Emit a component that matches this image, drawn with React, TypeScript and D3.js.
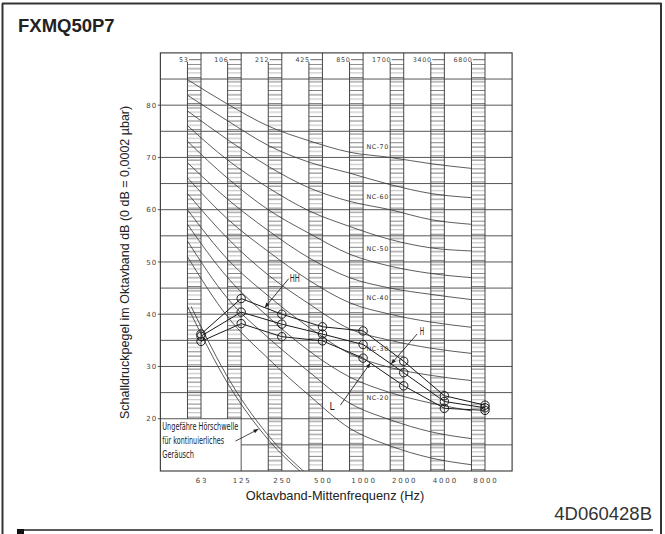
import React from "react";
import * as d3 from "d3";

// ---- data ---------------------------------------------------------------
const TITLE = "FXMQ50P7";
const DOC_CODE = "4D060428B";
const Y_TITLE = "Schalldruckpegel im Oktavband dB (0 dB = 0,0002 µbar)";
const X_TITLE = "Oktavband-Mittenfrequenz (Hz)";

// octave band centre frequencies (Hz) and their printed labels
const BAND_CENTERS = [63, 125, 250, 500, 1000, 2000, 4000, 8000];
const BAND_CENTER_LABELS = ["63", "125", "250", "500", "1000", "2000", "4000", "8000"];
// lower band-edge labels printed along the top
const BAND_EDGE_LABELS = ["53", "106", "212", "425", "850", "1700", "3400", "6800"];

const Y_TICKS = [20, 30, 40, 50, 60, 70, 80];
const GRID_LEVELS = [20, 25, 30, 35, 40, 45, 50, 55, 60, 65, 70, 75, 80, 85];
const LOW_GRID_LEVELS = [15];

// measured sound pressure level per octave band (dB)
const SERIES_HH = [36.2, 43.0, 40.0, 37.6, 36.8, 31.0, 24.4, 22.6];
const SERIES_H = [35.8, 40.4, 38.1, 36.2, 34.2, 28.8, 23.3, 22.1];
const SERIES_L = [34.8, 38.2, 35.7, 34.9, 31.6, 26.3, 22.0, 21.6];

// NC reference curves (dB at each band edge)
const NC_NAMES = ["NC-70", "NC-65", "NC-60", "NC-55", "NC-50", "NC-45", "NC-40", "NC-35", "NC-30", "NC-25", "NC-20", "NC-15"];
const NC_70 = [84.9, 80.2, 76.0, 73.2, 71.0, 70.0, 68.8, 67.9];
const NC_65 = [81.9, 77.0, 72.3, 69.1, 67.0, 64.8, 63.1, 62.3];
const NC_60 = [78.9, 73.4, 68.3, 64.2, 61.6, 60.0, 58.1, 57.2];
const NC_55 = [76.1, 69.5, 64.2, 59.8, 56.8, 54.3, 52.7, 52.1];
const NC_50 = [73.1, 66.0, 60.0, 55.5, 51.5, 49.2, 47.8, 47.0];
const NC_45 = [69.0, 62.0, 56.0, 50.8, 47.0, 45.0, 43.8, 42.8];
const NC_40 = [66.1, 58.2, 52.0, 46.5, 42.2, 40.0, 38.5, 37.5];
const NC_35 = [63.1, 54.5, 47.5, 42.0, 37.2, 35.0, 33.5, 32.5];
const NC_30 = [60.0, 50.5, 43.5, 37.5, 32.5, 29.8, 28.3, 27.3];
const NC_25 = [57.2, 47.0, 39.5, 33.0, 28.0, 25.0, 23.0, 21.5];
const NC_20 = [54.0, 43.0, 35.5, 29.0, 23.0, 19.8, 17.5, 16.2];
const NC_15 = [51.0, 39.5, 31.5, 24.5, 18.2, 14.8, 12.5, 11.2];
const NC_CURVES = [NC_70, NC_65, NC_60, NC_55, NC_50, NC_45, NC_40, NC_35, NC_30, NC_25, NC_20, NC_15];
const NC_LABELLED = ["NC-70", "NC-60", "NC-50", "NC-40", "NC-30", "NC-20"];

// approximate hearing threshold for continuous noise (dB at band edges)
const THRESHOLD = [41.5, 26.8, 16.0, 8.5];
const THRESHOLD_TEXT = ["Ungefähre Hörschwelle", "für kontinuierliches", "Geräusch"];

// ---- chart --------------------------------------------------------------
const W = 665;
const H = 534;
const EDGE_RATIO = Math.pow(2, -1 / 3); // band column spans edge → centre
const FRAME_FREQ = [31.5, 12700];
const DB_DOMAIN = [10, 90];

const CAD_FONT = "'DejaVu Sans', sans-serif";
const SANS = "'Liberation Sans', Arial, sans-serif";
const NARROW = "'Liberation Sans Narrow', 'DejaVu Sans Condensed', 'Arial Narrow', sans-serif";

export default function App() {
  const x = d3.scaleLog().base(2).domain([63, 8000]).range([201, 485]);
  const y = d3.scaleLinear().domain(DB_DOMAIN).range([471, 52.9]);

  const left = x(FRAME_FREQ[0]);
  const right = x(FRAME_FREQ[1]);
  const top = y(DB_DOMAIN[1]);
  const bottom = y(DB_DOMAIN[0]);

  const edgeX = (i: number) => x(BAND_CENTERS[i] * EDGE_RATIO);
  const ncLine = d3
    .line<number>()
    .x((_, i) => edgeX(i))
    .y((d) => y(d))
    .curve(d3.curveMonotoneX);
  const dataLine = d3
    .line<number>()
    .x((_, i) => x(BAND_CENTERS[i]))
    .y((d) => y(d));

  const series = [SERIES_HH, SERIES_H, SERIES_L];

  const pointOn = (s: number[], seg: number, t: number) => {
    const x0 = x(BAND_CENTERS[seg]);
    const x1 = x(BAND_CENTERS[seg + 1]);
    const y0 = y(s[seg]);
    const y1 = y(s[seg + 1]);
    return [x0 + (x1 - x0) * t, y0 + (y1 - y0) * t];
  };

  const annotations = [
    { label: "HH", s: SERIES_HH, seg: 1, t: 0.58, dx: 24, dy: -29, tx: 1, ty: 3, anchor: "start", len: 10 },
    { label: "H", s: SERIES_H, seg: 4, t: 0.69, dx: 26, dy: -30, tx: 2.5, ty: 1, anchor: "start", len: 4.5 },
    { label: "L", s: SERIES_L, seg: 4, t: 0.18, dx: -30, dy: 42, tx: -6, ty: 5, anchor: "end", len: 5 },
  ];

  // arrow to the hearing threshold line
  const thrT = 0.76;
  const thrX = edgeX(1) + (edgeX(2) - edgeX(1)) * thrT;
  const thrY = y(THRESHOLD[1] + (THRESHOLD[2] - THRESHOLD[1]) * thrT);

  const hatchStep = (y(80) - y(85)) / 6;

  return (
    <svg
      width={W}
      height={H}
      viewBox={`0 0 ${W} ${H}`}
      style={{ position: "absolute", left: 0, top: 0, display: "block", background: "#fff" }}
    >
      <defs>
        <pattern id="hatch" patternUnits="userSpaceOnUse" width={20} height={hatchStep * 3} y={top + 11}>
          <line x1={0} x2={20} y1={0.4} y2={0.4} stroke="#555" strokeWidth={0.8} />
          <line x1={0} x2={20} y1={hatchStep + 0.4} y2={hatchStep + 0.4} stroke="#555" strokeWidth={0.8} />
          <line x1={0} x2={20} y1={hatchStep * 2 + 0.4} y2={hatchStep * 2 + 0.4} stroke="#b0b0b0" strokeWidth={0.9} />
        </pattern>
        <marker id="arrow" viewBox="0 0 10 10" refX={10} refY={5} markerUnits="userSpaceOnUse" markerWidth={6} markerHeight={5} orient="auto">
          <path d="M0,1 L10,5 L0,9 z" fill="#222" />
        </marker>
        <clipPath id="plot-clip">
          <rect x={left} y={top} width={right - left} height={bottom - top} />
        </clipPath>
      </defs>

      {/* page frame */}
      <g stroke="#333" fill="none">
        <line x1={2.5} x2={2.5} y1={3.5} y2={H} strokeWidth={2} />
        <line x1={2} x2={661.5} y1={3.5} y2={3.5} strokeWidth={2} />
        <line x1={661} x2={661} y1={3} y2={H} strokeWidth={2} />
        <line x1={18} x2={653} y1={530} y2={530} strokeWidth={1.5} stroke="#222" />
      </g>
      <rect x={17} y={529} width={7} height={5} fill="#111" />

      <text x={18} y={31.5} fontFamily={SANS} fontWeight="bold" fontSize={18.5} fill="#222">
        {TITLE}
      </text>
      <text x={652} y={520} textAnchor="end" fontFamily={SANS} fontSize={18.5} fill="#333">
        {DOC_CODE}
      </text>

      {/* band columns */}
      {BAND_CENTERS.map((f, i) => {
        const x0 = edgeX(i);
        const x1 = x(f);
        const colBottom = i < 2 ? y(20) : bottom;
        const colTop = top + 11;
        return (
          <g key={`col-${f}`}>
            <rect x={x0} y={colTop} width={x1 - x0} height={colBottom - colTop} fill="url(#hatch)" />
            <line x1={x0} x2={x0} y1={top + 9} y2={colBottom} stroke="#333" strokeWidth={0.9} />
            <line x1={x1} x2={x1} y1={top} y2={colBottom} stroke="#333" strokeWidth={0.9} />
            <line x1={x0 + 1.5} x2={x1} y1={top + 6.8} y2={top + 6.8} stroke="#444" strokeWidth={0.8} />
            <text
              x={x0 + 1}
              y={top + 9}
              textAnchor="end"
              fontFamily={CAD_FONT}
              fontSize={6.4}
              letterSpacing={0.7}
              fill="#444"
            >
              {BAND_EDGE_LABELS[i]}
            </text>
            <text
              x={x1 + 1}
              y={483.3}
              textAnchor="middle"
              fontFamily={CAD_FONT}
              fontSize={7}
              letterSpacing={1.9}
              fill="#444"
            >
              {BAND_CENTER_LABELS[i]}
            </text>
          </g>
        );
      })}

      {/* horizontal grid */}
      <g stroke="#444" strokeWidth={0.9}>
        {GRID_LEVELS.map((v) => (
          <line key={`g-${v}`} x1={left} x2={right} y1={y(v)} y2={y(v)} />
        ))}
        {LOW_GRID_LEVELS.map((v) => (
          <line key={`lg-${v}`} x1={x(BAND_CENTERS[1])} x2={right} y1={y(v)} y2={y(v)} />
        ))}
        <line x1={x(BAND_CENTERS[1])} x2={x(BAND_CENTERS[1])} y1={y(20)} y2={bottom} />
        {Y_TICKS.map((v) => (
          <line key={`t-${v}`} x1={left - 2.5} x2={left} y1={y(v)} y2={y(v)} />
        ))}
      </g>
      <rect x={left} y={top} width={right - left} height={bottom - top} fill="none" stroke="#333" strokeWidth={1.1} />

      {Y_TICKS.map((v) => (
        <text
          key={`yl-${v}`}
          x={157.5}
          y={y(v) + 2.6}
          textAnchor="end"
          fontFamily={CAD_FONT}
          fontSize={7}
          letterSpacing={1.2}
          fill="#444"
        >
          {v}
        </text>
      ))}

      {/* NC curves */}
      <g fill="none" stroke="#333" strokeWidth={0.8}>
        {NC_CURVES.map((c, i) => (
          <path key={NC_NAMES[i]} d={ncLine(c) ?? ""} />
        ))}
      </g>
      {NC_CURVES.map((c, i) =>
        NC_LABELLED.includes(NC_NAMES[i]) ? (
          <text
            key={`ncl-${NC_NAMES[i]}`}
            x={edgeX(4) + 17}
            y={y(c[4]) - 2.8}
            fontFamily={CAD_FONT}
            fontSize={6.4}
            letterSpacing={0.5}
            fill="#333"
          >
            {NC_NAMES[i]}
          </text>
        ) : null
      )}

      {/* hearing threshold (double line) */}
      <g clipPath="url(#plot-clip)" fill="none" stroke="#333" strokeWidth={0.8}>
        <path d={ncLine(THRESHOLD) ?? ""} />
        <path d={ncLine(THRESHOLD) ?? ""} transform="translate(3.6,0)" />
      </g>
      {THRESHOLD_TEXT.map((t, i) => (
        <text
          key={`thr-${i}`}
          x={162.3}
          y={430 + i * 14}
          fontFamily={NARROW}
          fontSize={11}
          textLength={[76, 61.7, 31.7][i]}
          lengthAdjust="spacingAndGlyphs"
          fill="#222"
        >
          {t}
        </text>
      ))}
      <line
        x1={thrX - 23}
        y1={thrY + 15}
        x2={thrX}
        y2={thrY + 3}
        stroke="#222"
        strokeWidth={0.8}
        markerEnd="url(#arrow)"
      />

      {/* measured series */}
      <g fill="none" stroke="#1a1a1a" strokeWidth={1}>
        {series.map((s, k) => (
          <path key={`line-${k}`} d={dataLine(s) ?? ""} />
        ))}
        {series.map((s, k) =>
          s.map((v, i) => <circle key={`pt-${k}-${i}`} cx={x(BAND_CENTERS[i])} cy={y(v)} r={4.2} />)
        )}
      </g>

      {annotations.map((a) => {
        const [px, py] = pointOn(a.s, a.seg, a.t);
        const sx = px + a.dx;
        const sy = py + a.dy;
        return (
          <g key={`ann-${a.label}`}>
            <line x1={sx} y1={sy} x2={px} y2={py} stroke="#222" strokeWidth={0.9} markerEnd="url(#arrow)" />
            <text
              x={sx + a.tx}
              y={sy + a.ty}
              textAnchor={a.anchor as "start" | "end"}
              fontFamily={NARROW}
              fontSize={10}
              textLength={a.len}
              lengthAdjust="spacingAndGlyphs"
              fill="#222"
            >
              {a.label}
            </text>
          </g>
        );
      })}

      {/* axis titles */}
      <text
        transform={`translate(128.5,${(y(20) + y(80)) / 2 + 0.5}) rotate(-90)`}
        textAnchor="middle"
        fontFamily={SANS}
        fontSize={12.5}
        fill="#222"
      >
        {Y_TITLE}
      </text>
      <text x={335} y={500} textAnchor="middle" fontFamily={SANS} fontSize={12.8} fill="#222">
        {X_TITLE}
      </text>
    </svg>
  );
}
